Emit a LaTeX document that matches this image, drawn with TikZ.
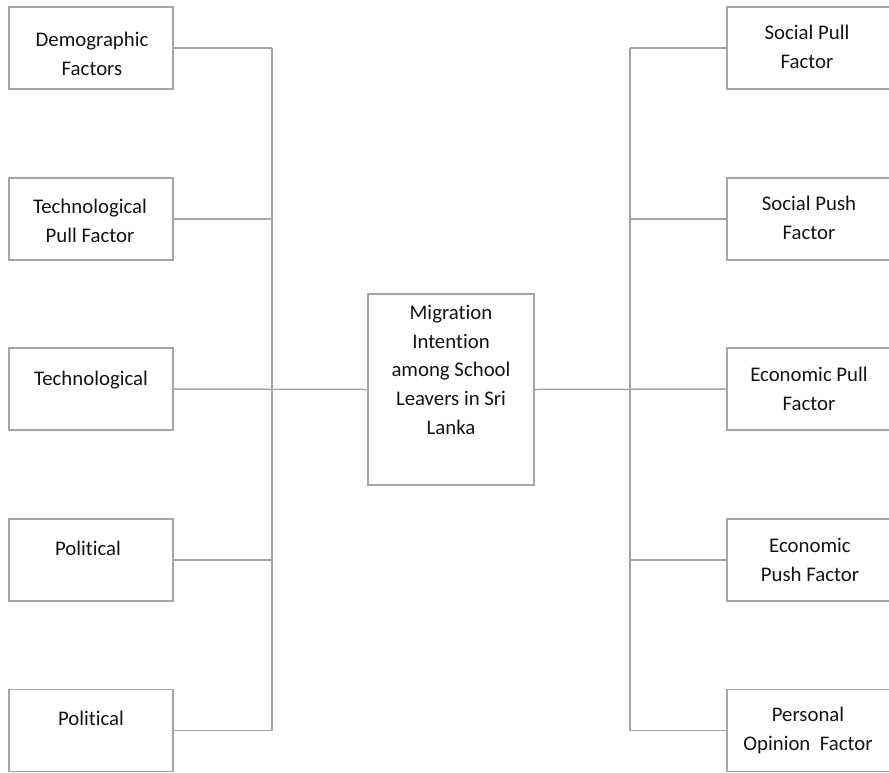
\documentclass[tikz,border=0pt]{standalone}
\usepackage{fontspec}
\setmainfont{Carlito}[Ligatures=NoCommon]
\definecolor{linegray}{RGB}{165,165,165}
\definecolor{textgray}{RGB}{20,20,20}
\begin{document}
\begin{tikzpicture}[x=1pt,y=-1pt,
  box/.style={draw=linegray, line width=1.5pt, minimum width=164pt, minimum height=82pt, inner sep=0pt},
  cbox/.style={draw=linegray, line width=1.5pt, minimum width=166pt, minimum height=191pt, inner sep=0pt},
  link/.style={draw=linegray, line width=1.5pt},
  lbl/.style={text=textgray, font=\fontsize{20.8}{28.8}\selectfont, align=center, anchor=north, inner sep=0pt}]
\useasboundingbox (0,0) rectangle (889,772);
% left boxes
\node[box] (l1) at (91,48) {};
\node[box] (l2) at (91,219) {};
\node[box] (l3) at (91,389) {};
\node[box] (l4) at (91,560) {};
\node[box] (l5) at (91,730.5) {};
% right boxes
\node[box] (r1) at (809,48) {};
\node[box] (r2) at (809,219) {};
\node[box] (r3) at (809,389) {};
\node[box] (r4) at (809,560) {};
\node[box] (r5) at (809,730.5) {};
% centre box
\node[cbox] (c) at (451,389.5) {};
% trunk coordinates
\coordinate (lv) at (272,0);
\coordinate (rv) at (630,0);
% labels (north = first baseline - 15)
\node[lbl] (tl1) at (92,31.7) {\rule{0pt}{15pt}Demographic\\Factors};
\node[lbl] (tl2) at (90,198) {\rule{0pt}{15pt}Technological\\Pull Factor};
\node[lbl] (tl3) at (91,370) {\rule{0pt}{15pt}Technological};
\node[lbl] (tl4) at (88,540) {\rule{0pt}{15pt}Political};
\node[lbl] (tl5) at (91,710) {\rule{0pt}{15pt}Political};
\node[lbl] (tr1) at (807,24.3) {\rule{0pt}{15pt}Social Pull\\Factor};
\node[lbl] (tr2) at (809,195.7) {\rule{0pt}{15pt}Social Push\\Factor};
\node[lbl] (tr3) at (809,366.7) {\rule{0pt}{15pt}Economic Pull\\Factor};
\node[lbl] (tr4) at (810,537.7) {\rule{0pt}{15pt}Economic\\Push Factor};
\node[lbl] (tr5) at (808,706.7) {\rule{0pt}{15pt}Personal\\Opinion~ Factor};
\node[lbl] (tc) at (451,304) {\rule{0pt}{15pt}Migration\\Intention\\among School\\Leavers in Sri\\Lanka};
% connectors
\draw[link] (l1.east) -- (l1.east -| lv);
\draw[link] (l2.east) -- (l2.east -| lv);
\draw[link] (l4.east) -- (l4.east -| lv);
\draw[link] (l5.east) -- (l5.east -| lv);
\draw[link] (l1.east -| lv) -- (l5.east -| lv);
\draw[link] (l3.east) -- (c.west);
\draw[link] (c.east) -- (r3.west);
\draw[link] (r1.west) -- (r1.west -| rv);
\draw[link] (r2.west) -- (r2.west -| rv);
\draw[link] (r4.west) -- (r4.west -| rv);
\draw[link] (r5.west) -- (r5.west -| rv);
\draw[link] (r1.west -| rv) -- (r5.west -| rv);
\end{tikzpicture}
\end{document}
